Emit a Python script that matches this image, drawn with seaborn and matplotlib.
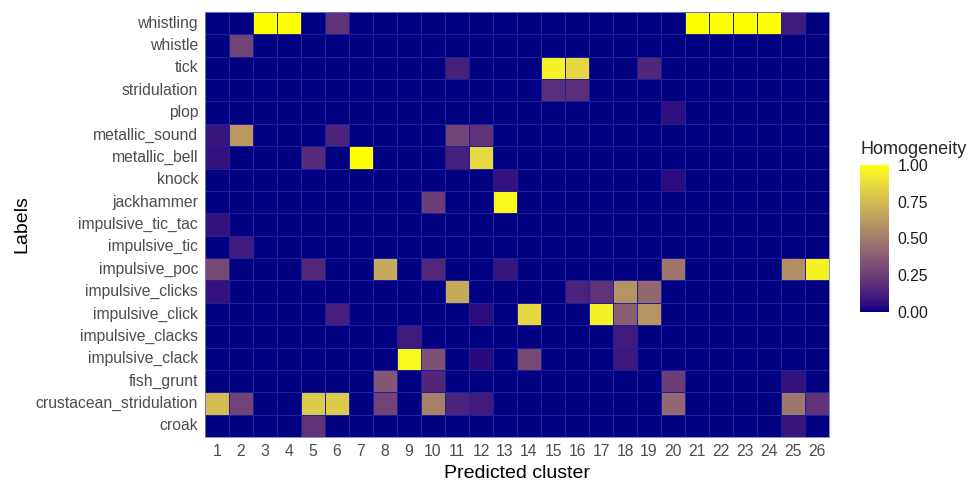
import numpy as np
import pandas as pd
import matplotlib
matplotlib.use("Agg")
import matplotlib.pyplot as plt
import seaborn as sns
from matplotlib.colors import ListedColormap

labels = ["whistling", "whistle", "tick", "stridulation", "plop",
          "metallic_sound", "metallic_bell", "knock", "jackhammer",
          "impulsive_tic_tac", "impulsive_tic", "impulsive_poc",
          "impulsive_clicks", "impulsive_click", "impulsive_clacks",
          "impulsive_clack", "fish_grunt", "crustacean_stridulation", "croak"]
clusters = [str(i) for i in range(1, 27)]

# homogeneity per label, one value per predicted cluster 1..26
whistling =               [0, 0, 1, 1, 0, .2, 0, 0, 0, 0, 0, 0, 0, 0, 0, 0, 0, 0, 0, 0, 1, 1, 1, 1, .1, 0]
whistle =                 [0, .27, 0, 0, 0, 0, 0, 0, 0, 0, 0, 0, 0, 0, 0, 0, 0, 0, 0, 0, 0, 0, 0, 0, 0, 0]
tick =                    [0, 0, 0, 0, 0, 0, 0, 0, 0, 0, .12, 0, 0, 0, .95, .85, 0, 0, .15, 0, 0, 0, 0, 0, 0, 0]
stridulation =            [0, 0, 0, 0, 0, 0, 0, 0, 0, 0, 0, 0, 0, 0, .18, .18, 0, 0, 0, 0, 0, 0, 0, 0, 0, 0]
plop =                    [0, 0, 0, 0, 0, 0, 0, 0, 0, 0, 0, 0, 0, 0, 0, 0, 0, 0, 0, .06, 0, 0, 0, 0, 0, 0]
metallic_sound =          [.08, .62, 0, 0, 0, .14, 0, 0, 0, 0, .28, .2, 0, 0, 0, 0, 0, 0, 0, 0, 0, 0, 0, 0, 0, 0]
metallic_bell =           [.07, 0, 0, 0, .17, 0, 1, 0, 0, 0, .12, .86, 0, 0, 0, 0, 0, 0, 0, 0, 0, 0, 0, 0, 0, 0]
knock =                   [0, 0, 0, 0, 0, 0, 0, 0, 0, 0, 0, 0, .07, 0, 0, 0, 0, 0, 0, .05, 0, 0, 0, 0, 0, 0]
jackhammer =              [0, 0, 0, 0, 0, 0, 0, 0, 0, .25, 0, 0, .97, 0, 0, 0, 0, 0, 0, 0, 0, 0, 0, 0, 0, 0]
impulsive_tic_tac =       [.07, 0, 0, 0, 0, 0, 0, 0, 0, 0, 0, 0, 0, 0, 0, 0, 0, 0, 0, 0, 0, 0, 0, 0, 0, 0]
impulsive_tic =           [0, .1, 0, 0, 0, 0, 0, 0, 0, 0, 0, 0, 0, 0, 0, 0, 0, 0, 0, 0, 0, 0, 0, 0, 0, 0]
impulsive_poc =           [.3, 0, 0, 0, .16, 0, 0, .68, 0, .16, 0, 0, .08, 0, 0, 0, 0, 0, 0, .48, 0, 0, 0, 0, .58, .95]
impulsive_clicks =        [.07, 0, 0, 0, 0, 0, 0, 0, 0, 0, .68, 0, 0, 0, 0, .13, .2, .6, .42, 0, 0, 0, 0, 0, 0, 0]
impulsive_click =         [0, 0, 0, 0, 0, .12, 0, 0, 0, 0, 0, .05, 0, .85, 0, 0, .95, .38, .6, 0, 0, 0, 0, 0, 0, 0]
impulsive_clacks =        [0, 0, 0, 0, 0, 0, 0, 0, .1, 0, 0, 0, 0, 0, 0, 0, 0, .1, 0, 0, 0, 0, 0, 0, 0, 0]
impulsive_clack =         [0, 0, 0, 0, 0, 0, 0, 0, .97, .33, 0, .04, 0, .3, 0, 0, 0, .09, 0, 0, 0, 0, 0, 0, 0, 0]
fish_grunt =              [0, 0, 0, 0, 0, 0, 0, .35, 0, .15, 0, 0, 0, 0, 0, 0, 0, 0, 0, .25, 0, 0, 0, 0, .07, 0]
crustacean_stridulation = [.75, .27, 0, 0, .8, .8, 0, .27, 0, .52, .13, .1, 0, 0, 0, 0, 0, 0, 0, .42, 0, 0, 0, 0, .48, .2]
croak =                   [0, 0, 0, 0, .2, 0, 0, 0, 0, 0, 0, 0, 0, 0, 0, 0, 0, 0, 0, 0, 0, 0, 0, 0, .08, 0]

rows = [whistling, whistle, tick, stridulation, plop, metallic_sound,
        metallic_bell, knock, jackhammer, impulsive_tic_tac, impulsive_tic,
        impulsive_poc, impulsive_clicks, impulsive_click, impulsive_clacks,
        impulsive_clack, fish_grunt, crustacean_stridulation, croak]
df = pd.DataFrame(rows, index=labels, columns=clusters)


# navy -> yellow ramp interpolated in CIELAB (like ggplot's gradient)
def to_lab(rgb):
    c = np.asarray(rgb, float)
    c = np.where(c > 0.04045, ((c + 0.055) / 1.055) ** 2.4, c / 12.92)
    m = np.array([[0.4124, 0.3576, 0.1805], [0.2126, 0.7152, 0.0722], [0.0193, 0.1192, 0.9505]])
    xyz = m @ c / np.array([0.95047, 1.0, 1.08883])
    f = np.where(xyz > 0.008856, np.cbrt(xyz), 7.787 * xyz + 16 / 116)
    return np.array([116 * f[1] - 16, 500 * (f[0] - f[1]), 200 * (f[1] - f[2])])


def from_lab(lab):
    fy = (lab[0] + 16) / 116
    f = np.array([fy + lab[1] / 500, fy, fy - lab[2] / 200])
    xyz = np.where(f ** 3 > 0.008856, f ** 3, (f - 16 / 116) / 7.787) * np.array([0.95047, 1.0, 1.08883])
    m = np.array([[3.2406, -1.5372, -0.4986], [-0.9689, 1.8758, 0.0415], [0.0557, -0.2040, 1.0570]])
    c = m @ xyz
    c = np.where(c > 0.0031308, 1.055 * np.clip(c, 0, None) ** (1 / 2.4) - 0.055, 12.92 * c)
    return np.clip(c, 0, 1)


lo, hi = to_lab([0, 0, 0.5]), to_lab([1, 1, 0])
cmap = ListedColormap([from_lab(lo + t * (hi - lo)) for t in np.linspace(0, 1, 256)])

sns.set_style("white")
plt.rcParams["font.family"] = ["Liberation Sans", "DejaVu Sans"]

fig = plt.figure(figsize=(9.71, 4.82), dpi=100)
ax = fig.add_axes([205 / 971, 1 - 437 / 482, 624 / 971, 425 / 482])
cax = fig.add_axes([860 / 971, 1 - 312 / 482, 29 / 971, 147 / 482])

sns.heatmap(df, ax=ax, cbar_ax=cax, cmap=cmap, vmin=0, vmax=1,
            linewidths=0.4, linecolor="#20209a",
            cbar_kws={"ticks": [0, 0.25, 0.5, 0.75, 1.0], "format": "%.2f"})

ax.set_xlabel("Predicted cluster", fontsize=14, color="black", labelpad=4)
ax.set_ylabel("Labels", fontsize=14, color="black", labelpad=4)
ax.tick_params(axis="both", length=0, labelsize=11.3, labelcolor="#4d4d4d", pad=5)
ax.set_yticklabels(labels, rotation=0)
ax.set_xticklabels(clusters, rotation=0)
for s in ax.spines.values():
    s.set_visible(True)
    s.set_color("#7a7ad8")
    s.set_linewidth(0.6)

cb = ax.collections[0].colorbar
cb.outline.set_visible(False)
cax.tick_params(labelsize=11.3, labelcolor="#1a1a1a", direction="in",
                color="white", length=4, width=0.8, pad=6)
cax.set_title("Homogeneity", fontsize=13, loc="left", pad=8, x=0.0)

fig.savefig("out.png", dpi=100)
